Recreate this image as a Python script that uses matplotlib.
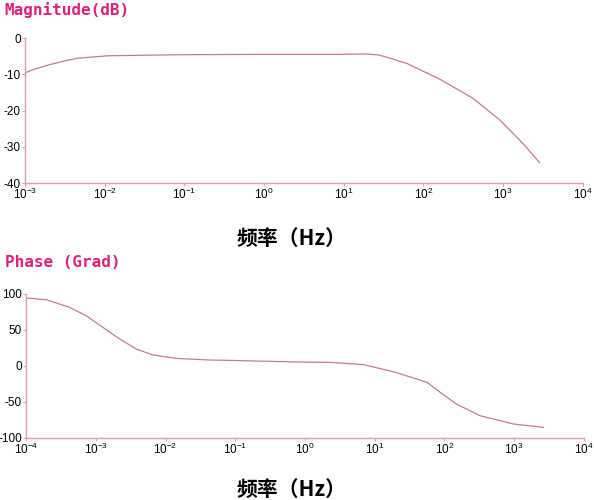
import matplotlib
matplotlib.use('Agg')
import matplotlib.pyplot as plt
from matplotlib.ticker import LogLocator, LogFormatterMathtext, NullLocator

plt.rcParams['font.family'] = ['Liberation Sans', 'DejaVu Sans']
plt.rcParams['mathtext.fontset'] = 'custom'
plt.rcParams['mathtext.rm'] = 'Liberation Sans'
plt.rcParams['mathtext.it'] = 'Liberation Sans:italic'
plt.rcParams['mathtext.bf'] = 'Liberation Sans:bold'

# ---------------- data ----------------
# magnitude curve (Hz, dB)
mag_freq = [1e-3, 1.4e-3, 2.0e-3, 3.2e-3, 4.5e-3, 1.1e-2, 0.1, 1, 9, 19.5, 28, 62, 162, 417,
            912, 1780, 2880]
mag_db = [-9.6, -8.4, -7.4, -6.3, -5.6, -4.9, -4.6, -4.5, -4.5, -4.4, -4.7, -7.0, -11.4, -16.6,
          -22.6, -29.1, -34.4]

# phase curve (Hz, deg)
ph_freq = [1e-4, 1.95e-4, 4.2e-4, 7.2e-4, 1.26e-3, 2.2e-3, 3.8e-3, 6.6e-3, 1.4e-2, 4.3e-2,
           7.4e-2, 0.85, 2.3, 6.9, 20, 56, 87, 148, 324, 977, 2630]
ph_deg = [94.5, 92, 81.5, 70, 53.7, 37.5, 23.6, 15.3, 10.6, 8.3, 7.9, 5.5, 5.1, 1.9, -8.8,
          -22.7, -36.6, -52.8, -69, -80.6, -85.2]

mag_yticks = [0, -10, -20, -30, -40]
ph_yticks = [100, 50, 0, -50, -100]

# ---------------- styles ----------------
line_col = '#c47a9c'
spine_col = '#e69ab4'
title_col = '#e0207a'

fig = plt.figure(figsize=(5.94, 5.0), dpi=100)
ax_mag = fig.add_axes([0.042, 0.634, 0.939, 0.290])
ax_ph = fig.add_axes([0.044, 0.124, 0.939, 0.288])


def style_axes(ax, xlim, ylim, yticks):
    ax.set_xscale('log')
    ax.set_xlim(*xlim)
    ax.set_ylim(*ylim)
    ax.set_yticks(yticks)
    ax.set_yticklabels([str(v) for v in yticks])
    ax.xaxis.set_major_locator(LogLocator(base=10, numticks=20))
    ax.xaxis.set_major_formatter(LogFormatterMathtext())
    ax.xaxis.set_minor_locator(NullLocator())
    for s in ['top', 'right']:
        ax.spines[s].set_visible(False)
    for s in ['left', 'bottom']:
        ax.spines[s].set_color(spine_col)
        ax.spines[s].set_linewidth(1.0)
    ax.tick_params(axis='both', colors=spine_col, labelcolor='black', labelsize=8.5,
                   length=2, width=0.8, pad=1)


# Magnitude
ax_mag.plot(mag_freq, mag_db, color=line_col, lw=0.9)
style_axes(ax_mag, (1e-3, 1e4), (-40, 0), mag_yticks)
fig.text(0.008, 0.979, 'Magnitude(dB)', family='DejaVu Sans Mono', fontweight='bold',
         fontsize=11.5, color=title_col, va='center', ha='left')
fig.text(0.49, 0.524, '频率（Hz）', family=['Noto Sans CJK SC', 'DejaVu Sans'],
         fontweight='bold', fontsize=15, color='black', va='center', ha='center')

# Phase
ax_ph.plot(ph_freq, ph_deg, color=line_col, lw=0.9)
style_axes(ax_ph, (1e-4, 1e4), (-100, 100), ph_yticks)
fig.text(0.008, 0.475, 'Phase (Grad)', family='DejaVu Sans Mono', fontweight='bold',
         fontsize=11.5, color=title_col, va='center', ha='left')
fig.text(0.49, 0.022, '频率（Hz）', family=['Noto Sans CJK SC', 'DejaVu Sans'],
         fontweight='bold', fontsize=15, color='black', va='center', ha='center')

fig.savefig('out.png', dpi=100)
plt.close('all')
